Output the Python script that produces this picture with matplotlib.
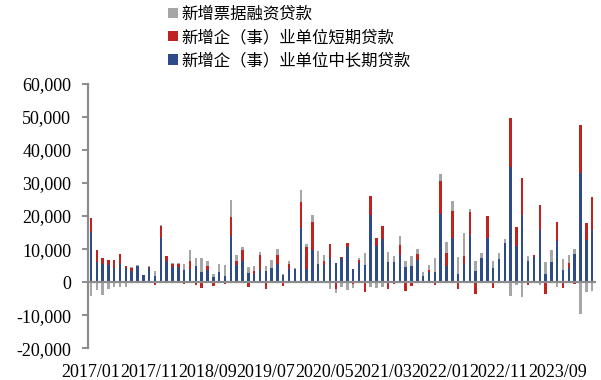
import numpy as np
import pandas as pd
import matplotlib
matplotlib.use("Agg")
import matplotlib.pyplot as plt
from matplotlib.patches import Patch
from matplotlib.ticker import FuncFormatter

# Monthly new corporate loans (100 million yuan), 2017/01 - 2024/03
months = pd.period_range("2017-01", "2024-03", freq="M").strftime("%Y/%m").tolist()

mid_long_term = [
    15200, 6000, 5500, 5100, 4200, 5600, 4300, 3500, 5000, 2300, 4200, 2000,
    13300, 6500, 4500, 4500, 3800, 3900, 4800, 3200, 3600, 1500, 3200, 1900,
    13900, 5100, 6500, 2700, 2400, 3700, 3500, 4200, 5600, 2200, 4000, 4100,
    16500, 4100, 9600, 5400, 5200, 7300, 5900, 7300, 10600, 4100, 5800, 5200,
    20300, 10900, 13200, 6200, 6200, 8100, 4700, 5000, 6700, 2000, 3200, 3200,
    20700, 5000, 13300, 2500, 5400, 14300, 3400, 7200, 13400, 4400, 7000, 12000,
    34700, 11000, 20400, 6400, 7500, 15800, 2500, 6200, 12400, 3600, 4300, 8500,
    32900, 12800, 15900,
]
short_term = [
    4300, 3600, 1800, 1700, 2600, 3000, 600, 700, -300, 0, 400, -900,
    3600, 1400, 900, 1000, -500, 2600, -1000, -1700, 1200, -1200, 0, -700,
    5900, 1400, 3100, -1500, 1100, 4400, -2200, 0, 2500, -1200, 1600, 0,
    7700, 6500, 8600, 0, 1300, 4100, -2200, 200, 1400, -700, 800, -3000,
    5800, 2500, 3800, -2000, -600, 3200, -2700, -1300, 1800, 0, 500, -1000,
    10000, 3800, 8100, -2000, 2600, 6800, -3500, 0, 6500, -1800, 0, -300,
    15100, 5700, 11000, -1000, 700, 7400, -3600, 0, 5700, -1800, 1600, -600,
    14600, 5200, 9800,
]
bill_financing = [
    -4300, -2400, -3800, -2000, -1500, -1600, -1600, 300, 100, -300, 400, 1400,
    500, -300, 300, 300, 1700, 3100, 2400, 4200, 1700, 1000, 2400, 3300,
    5200, 1800, 1100, 1900, 1300, 1100, 1300, 2600, 2000, 300, 900, 300,
    3600, 800, 2200, 4100, 1600, -2000, -1100, -1600, -2500, -1100, 700, 3700,
    -1400, -1800, -1500, 2800, 1700, 2700, 1800, 3000, 1400, 1000, 1500, 4000,
    2000, 3300, 3200, 5200, 7000, 1000, 3100, 1600, -300, 2000, 1700, 1100,
    -4300, -1000, -4600, 1500, 0, -800, 3700, 3500, -1600, 3300, 2200, 1500,
    -9700, -2900, -2600,
]

series = [
    ("新增企（事）业单位中长期贷款", mid_long_term, "#2D4B86"),
    ("新增企（事）业单位短期贷款", short_term, "#BE2320"),
    ("新增票据融资贷款", bill_financing, "#A6A6A6"),
]

plt.rcParams["font.family"] = ["Liberation Serif", "Noto Sans CJK SC"]
plt.rcParams["axes.unicode_minus"] = False

fig = plt.figure(figsize=(6.01, 3.80), dpi=100)
ax = fig.add_axes([88 / 601, 31.7 / 380, 508 / 601, 264.5 / 380])

x = np.arange(len(months))
pos_base = np.zeros(len(months))
neg_base = np.zeros(len(months))
for name, vals, color in series:
    v = np.asarray(vals, dtype=float)
    bottom = np.where(v >= 0, pos_base, neg_base)
    ax.bar(x, v, bottom=bottom, width=0.42, color=color, linewidth=0, zorder=2)
    pos_base += np.clip(v, 0, None)
    neg_base += np.clip(v, None, 0)

ax.axhline(0, color="#8C8C8C", lw=1.6, zorder=3)

ax.set_xlim(-0.5, len(months) - 0.35)
ax.set_ylim(-20000, 60000)
ax.set_yticks(np.arange(-20000, 60001, 10000))
ax.yaxis.set_major_formatter(FuncFormatter(lambda v, p: f"{int(v):,}"))

tick_idx = list(range(0, len(months), 10))
ax.set_xticks(tick_idx)
ax.set_xticklabels([months[i] for i in tick_idx])

for s in ["top", "right", "bottom"]:
    ax.spines[s].set_visible(False)
ax.spines["left"].set_color("#8C8C8C")
ax.spines["left"].set_linewidth(1.6)

ax.tick_params(axis="y", length=4, width=1.4, color="#8C8C8C", pad=8,
               labelsize=13, labelcolor="black")
ax.tick_params(axis="x", length=0, pad=11, labelsize=13, labelcolor="black")

handles = [Patch(facecolor=c, edgecolor="none") for _, _, c in series[::-1]]
labels = [n for n, _, _ in series[::-1]]
fig.legend(handles, labels, loc="upper left", bbox_to_anchor=(168 / 601, 1 - 6 / 380),
           frameon=False, prop={"family": ["Noto Sans CJK SC"], "size": 11.8},
           handlelength=0.6, handleheight=0.6, handletextpad=0.2,
           labelspacing=0.37, borderaxespad=0, borderpad=0)

fig.savefig("out.png", dpi=100)
